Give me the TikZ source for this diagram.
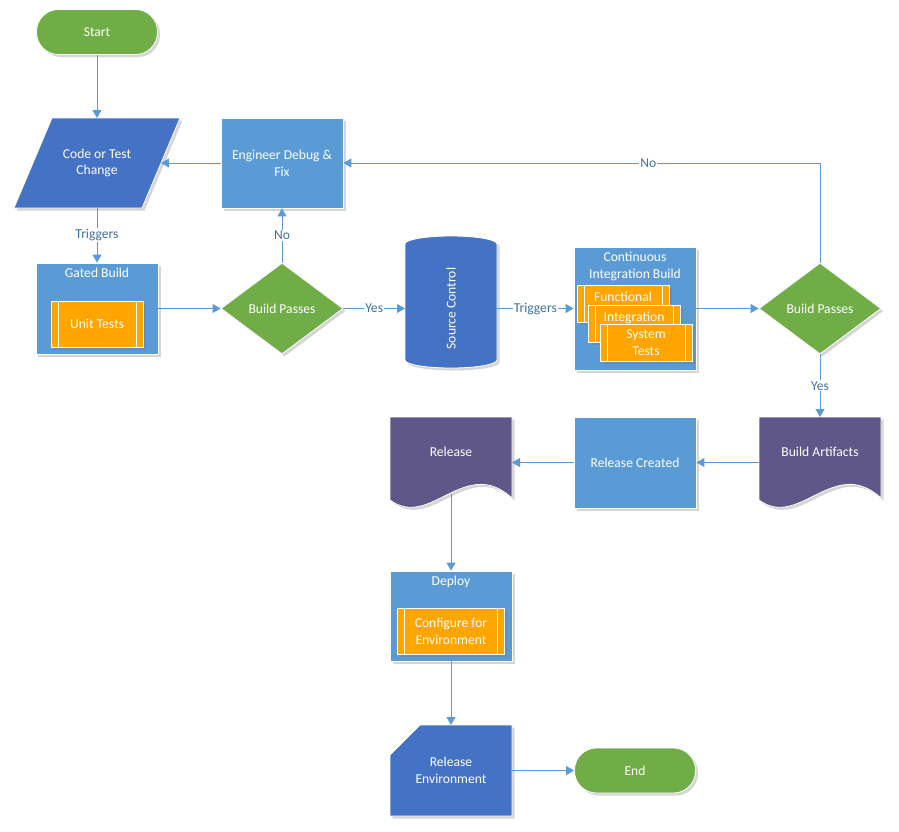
\documentclass[tikz,border=0pt]{standalone}
\usepackage{fontspec}
\setmainfont{Carlito}
\usepackage{graphicx}
\usepackage{xcolor}
\usetikzlibrary{calc, positioning, arrows.meta, shapes.geometric, shadows, backgrounds}
\definecolor{flgreen}{HTML}{70AD47}
\definecolor{fldark}{HTML}{4472C4}
\definecolor{fllight}{HTML}{5B9BD5}
\definecolor{florange}{HTML}{FFA500}
\definecolor{flpurple}{HTML}{5F5787}
\definecolor{fltext}{HTML}{41719C}

\begin{document}
\begin{tikzpicture}[
  x=1pt, y=1pt,
  node distance=100pt, on grid,
  every node/.style={font=\fontsize{13.6}{16.8}\selectfont},
  shdw/.style={drop shadow={shadow xshift=2.5pt, shadow yshift=-2.5pt, opacity=0.3, fill=black!55}},
  base/.style={draw=white, line width=0.8pt, text=white, align=center, inner sep=2pt, shdw},
  term/.style={base, fill=flgreen, rounded corners=22pt, minimum width=121pt, minimum height=45pt},
  proc/.style={base, fill=fllight, minimum width=122pt, minimum height=90pt},
  decide/.style={base, diamond, aspect=1.34, fill=flgreen, minimum width=122pt, minimum height=91pt, inner sep=0pt},
  sub/.style={base, fill=florange, minimum width=92pt, minimum height=37pt,
    path picture={\draw[white, line width=0.8pt]
      ([xshift=7pt]path picture bounding box.north west) -- ([xshift=7pt]path picture bounding box.south west)
      ([xshift=-7pt]path picture bounding box.north east) -- ([xshift=-7pt]path picture bounding box.south east);}},
  shell/.style={text=white, align=center, minimum width=122pt, outer sep=0pt},
  ttl/.style={anchor=north, text=white, align=center, inner sep=5.5pt},
  subttl/.style={anchor=north, text=white, inner sep=7.5pt},
  arr/.style={-{Triangle[width=9pt,length=8pt]}, fllight, line width=0.9pt},
  lbl/.style={fill=white, text=fltext, inner sep=1pt}
]

\useasboundingbox (-97,32) rectangle (802,-799);

\node[term] (start) at (0,0) {Start};
\node[shell, minimum width=128pt, minimum height=90pt, below=131pt of start] (code) {Code or Test\\Change};
\node[proc, right=185pt of code] (debug) {Engineer Debug \&\\Fix};

\node[proc, minimum height=91pt, below=145.5pt of code, label={[ttl]north:Gated Build}] (gated) {};
\node[sub, minimum height=46pt, below=15.5pt of gated] (unit) {Unit Tests};
\node[decide, right=185pt of gated] (bp1) {Build Passes};
\node[shell, minimum width=92pt, minimum height=113pt, right=169pt of bp1] (src) {\rotatebox{90}{Source Control}};

\node[proc, minimum height=123pt, right=184pt of src, label={[ttl]north:Continuous\\Integration Build}] (ci) {};
\node[sub, above left=5pt and 12pt of ci, label={[subttl]north:Functional}] (func) {};
\node[sub, below right=20pt and 11pt of func, label={[subttl]north:Integration}] (integ) {};
\node[sub, below right=19.5pt and 12pt of integ] (systest) {System\\Tests};
\node[decide, right=185pt of ci] (bp2) {Build Passes};

\node[shell, minimum height=70pt, below=143.5pt of bp2] (art) {Build Artifacts};
\node[proc, minimum height=91pt, below left=10.5pt and 185pt of art] (relc) {Release Created};
\node[shell, minimum height=70pt, above left=10.5pt and 184pt of relc] (rel) {Release};

\node[proc, below=164pt of rel, label={[ttl]north:Deploy}] (deploy) {};
\node[sub, minimum width=107pt, minimum height=46pt, below=15pt of deploy] (cfg) {Configure for\\Environment};
\node[shell, minimum height=91pt, below=154.5pt of deploy] (env) {Release\\Environment};
\node[term, right=184pt of env] (end) {End};

\begin{scope}[on background layer]
\fill[fldark, draw=white, line width=0.8pt, shdw] ([xshift=-19pt]code.south west) -- ([xshift=-19pt]code.south east)
  -- ([xshift=19pt]code.north east) -- ([xshift=19pt]code.north west) -- cycle;
\fill[fldark, draw=white, line width=0.8pt, shdw] ([yshift=8pt]src.north west)
  arc[start angle=180, end angle=0, x radius=46pt, y radius=8pt] -- ([yshift=5pt]src.south east)
  arc[start angle=0, end angle=-180, x radius=46pt, y radius=8pt] -- cycle;
\fill[flpurple, draw=white, line width=0.8pt, shdw] (art.north west) -- ([yshift=-13pt]art.south west)
  .. controls +(40pt,-30pt) and +(-47pt,43pt) .. ([yshift=-11pt]art.south east) -- (art.north east) -- cycle;
\fill[flpurple, draw=white, line width=0.8pt, shdw] (rel.north west) -- ([yshift=-13pt]rel.south west)
  .. controls +(40pt,-30pt) and +(-47pt,43pt) .. ([yshift=-11pt]rel.south east) -- (rel.north east) -- cycle;
\fill[fldark, draw=white, line width=0.8pt, shdw] ([xshift=30pt]env.north west) -- (env.north east)
  -- (env.south east) -- (env.south west) -- ([yshift=-30pt]env.north west) -- cycle;
\end{scope}

\draw[arr] (start) -- (code);
\draw[arr] (code) -- node[lbl]{Triggers} (gated);
\draw[arr] (debug) -- (code);
\draw[arr] (gated) -- (bp1);
\draw[arr] (bp1) -- node[lbl]{No} (debug);
\draw[arr] (bp1) -- node[lbl]{Yes} (src);
\draw[arr] (src) -- node[lbl]{Triggers} (ci);
\draw[arr] (ci) -- (bp2);
\draw[arr] (bp2) |- node[lbl, pos=0.68]{No} (debug);
\draw[arr] (bp2) -- node[lbl]{Yes} (art);
\draw[arr] (art.west |- relc) -- (relc);
\draw[arr] (relc) -- (relc -| rel.east);
\draw[arr] ([yshift=-7pt]rel.south) -- (deploy);
\draw[arr] (deploy) -- (env);
\draw[arr] (env) -- (end);

\end{tikzpicture}
\end{document}
